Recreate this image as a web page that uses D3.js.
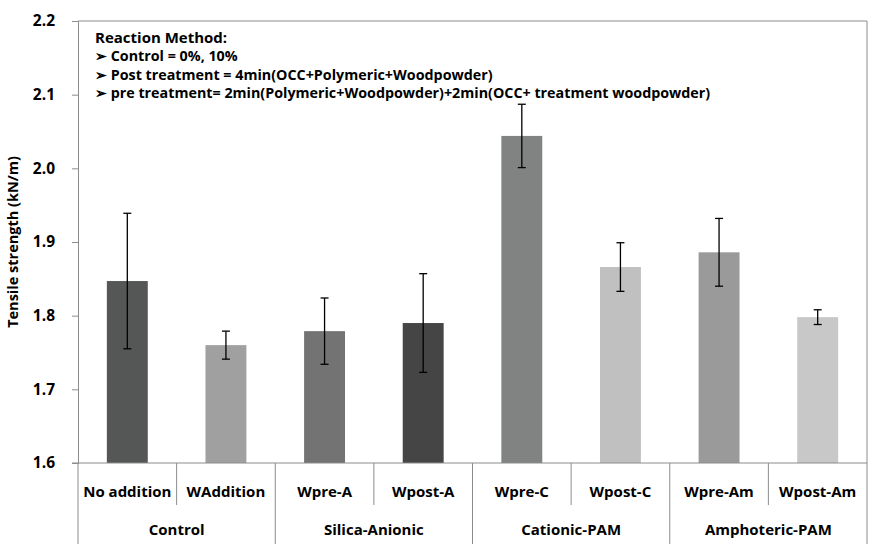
<!DOCTYPE html>
<html>
<head>
<meta charset="utf-8">
<script src="https://cdn.jsdelivr.net/npm/d3@7"></script>
<style>
  body { margin: 0; background: #fff; }
  text { font-family: "Open Sans", "Noto Sans", sans-serif; font-weight: bold; fill: #000; }
</style>
</head>
<body>
<svg id="chart" width="883" height="552"></svg>
<script>
// chart data
var categories = ["No addition", "WAddition", "Wpre-A", "Wpost-A", "Wpre-C", "Wpost-C", "Wpre-Am", "Wpost-Am"];
var groups = ["Control", "Silica-Anionic", "Cationic-PAM", "Amphoteric-PAM"];
var values = [1.847, 1.760, 1.779, 1.790, 2.044, 1.866, 1.886, 1.798];
var errors = [0.092, 0.019, 0.045, 0.067, 0.043, 0.033, 0.046, 0.010];
var barColors = ["#555756", "#a0a0a0", "#727372", "#454545", "#808382", "#c0c0c0", "#9a9a9a", "#c8c8c8"];
var yTicks = [1.6, 1.7, 1.8, 1.9, 2.0, 2.1, 2.2];
var notes = ["Reaction Method:",
             "\u27A2 Control = 0%, 10%",
             "\u27A2 Post treatment = 4min(OCC+Polymeric+Woodpowder)",
             "\u27A2 pre treatment= 2min(Polymeric+Woodpowder)+2min(OCC+ treatment woodpowder)"];

function draw_chart()
{
  var svg = d3.select("#chart");
  var left = 78, right = 867, plotTop = 21, bottom = 463;
  var axisColor = "#8c8c8c";

  var x = d3.scaleBand().domain(categories).range([left, right]).padding(0);
  var y = d3.scaleLinear().domain([1.6, 2.2]).range([bottom, plotTop]);
  var bw = x.bandwidth();
  var barW = bw * 0.415;

  // plot border (top and right)
  svg.append("path")
    .attr("d", "M" + left + "," + plotTop + "H" + right + "V" + bottom)
    .attr("fill", "none").attr("stroke", axisColor);

  // y axis
  var yAxis = svg.append("g")
    .attr("transform", "translate(" + left + ",0)")
    .call(d3.axisLeft(y).tickValues(yTicks).tickSize(6).tickPadding(17).tickFormat(d3.format(".1f")));
  yAxis.select(".domain").attr("stroke", axisColor);
  yAxis.selectAll(".tick line").attr("stroke", axisColor);
  yAxis.selectAll(".tick text").style("font-size", "15.5px");

  // y title
  svg.append("text")
    .attr("transform", "translate(18," + ((plotTop + bottom) / 2) + ") rotate(-90)")
    .style("text-anchor", "middle")
    .style("font-size", "14.5px")
    .text("Tensile strength (kN/m)");

  // bars
  svg.selectAll("rect.bar")
    .data(categories)
    .enter().append("rect")
    .attr("class", "bar")
    .attr("x", function(d) { return x(d) + (bw - barW) / 2; })
    .attr("width", barW)
    .attr("y", function(d, i) { return y(values[i]); })
    .attr("height", function(d, i) { return bottom - y(values[i]); })
    .attr("fill", function(d, i) { return barColors[i]; });

  // error bars
  var eb = svg.selectAll("g.err")
    .data(categories)
    .enter().append("g")
    .attr("class", "err")
    .attr("stroke", "#000")
    .attr("stroke-width", 1.3);
  eb.append("line")
    .attr("x1", function(d) { return x(d) + bw / 2; })
    .attr("x2", function(d) { return x(d) + bw / 2; })
    .attr("y1", function(d, i) { return y(values[i] + errors[i]); })
    .attr("y2", function(d, i) { return y(values[i] - errors[i]); });
  [1, -1].forEach(function(s) {
    eb.append("line")
      .attr("x1", function(d) { return x(d) + bw / 2 - 4; })
      .attr("x2", function(d) { return x(d) + bw / 2 + 4; })
      .attr("y1", function(d, i) { return y(values[i] + s * errors[i]); })
      .attr("y2", function(d, i) { return y(values[i] + s * errors[i]); });
  });

  // x axis line and dividers
  svg.append("line")
    .attr("x1", left - 6).attr("x2", right)
    .attr("y1", bottom).attr("y2", bottom)
    .attr("stroke", axisColor);

  categories.forEach(function(c, i) {
    var xx = x(c);
    var isGroupEdge = (i % 2 === 0);
    svg.append("line")
      .attr("x1", xx).attr("x2", xx)
      .attr("y1", bottom).attr("y2", isGroupEdge ? 544 : 505)
      .attr("stroke", axisColor);
  });
  svg.append("line")
    .attr("x1", right).attr("x2", right)
    .attr("y1", bottom).attr("y2", 544)
    .attr("stroke", axisColor);

  // category labels
  svg.selectAll("text.cat")
    .data(categories)
    .enter().append("text")
    .attr("class", "cat")
    .attr("x", function(d) { return x(d) + bw / 2; })
    .attr("y", 492)
    .attr("dy", "0.35em")
    .style("text-anchor", "middle")
    .style("font-size", "15px")
    .text(function(d) { return d; });

  // group labels
  svg.selectAll("text.grp")
    .data(groups)
    .enter().append("text")
    .attr("class", "grp")
    .attr("x", function(d, i) { return x(categories[i * 2]) + bw; })
    .attr("y", 530)
    .attr("dy", "0.35em")
    .style("text-anchor", "middle")
    .style("font-size", "15px")
    .text(function(d) { return d; });

  // notes text in the top left
  svg.selectAll("text.note")
    .data(notes)
    .enter().append("text")
    .attr("class", "note")
    .attr("x", 95)
    .attr("y", function(d, i) { return 38 + i * 18.3; })
    .attr("dy", "0.35em")
    .style("font-size", function(d, i) { return i === 0 ? "15px" : "14.3px"; })
    .text(function(d) { return d; });
}

draw_chart();
</script>
</body>
</html>
